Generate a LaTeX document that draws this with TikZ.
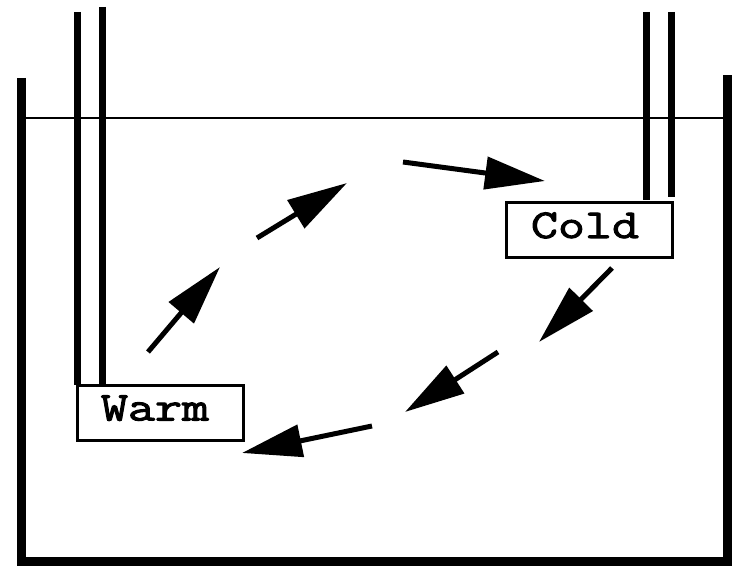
\documentclass[tikz,border=0pt]{standalone}
\usepackage{fontspec}
\newfontfamily\probefont[FakeBold=2.5, FakeStretch=1.28]{Latin Modern Mono}
\usetikzlibrary{arrows.meta}

\tikzset{
    probe/.style={draw, line width=3pt, minimum width=166pt, minimum height=55pt,
        inner sep=0pt, text height=30pt, text depth=14pt,
        font=\fontsize{41}{41}\selectfont\probefont},
    flow/.style={line width=5pt, -{Triangle[length=60pt, width=32pt]}},
    pipe/.style={line width=7pt}
}

\begin{document}
\begin{tikzpicture}[x=1pt, y=-1pt]
            \useasboundingbox (0,0) rectangle (732,567);
            % tank and water level
            \draw[line width=9pt] (21.5,78) -- (21.5,561) -- (727.5,561) -- (727.5,75);
            \draw[line width=2pt] (21.5,118) -- (727.5,118);
            % probes
            \node[probe] (warm) at (160,412.5) {\hspace*{-10pt}Warm};
            \node[probe] (cold) at (589,230) {\hspace*{-8pt}Cold};
            \draw[pipe] (77,12) -- (77,385);
            \draw[pipe] (102,7) -- (102,385);
            \draw[pipe] (646,12) -- (646,200);
            \draw[pipe] (671,12) -- (671,197);
            % convection loop
            \coordinate (a1) at (148,352);  \coordinate (b1) at (220,267);
            \coordinate (a2) at (257,238);  \coordinate (b2) at (347,183);
            \coordinate (a3) at (403,162);  \coordinate (b3) at (545,181);
            \coordinate (a4) at (612,268);  \coordinate (b4) at (539,342);
            \coordinate (a5) at (498,352);  \coordinate (b5) at (405,412);
            \coordinate (a6) at (372,426);  \coordinate (b6) at (242,453);
            \foreach \i in {1,...,6}
                \draw[flow] (a\i) -- (b\i);
        \end{tikzpicture}
\end{document}
